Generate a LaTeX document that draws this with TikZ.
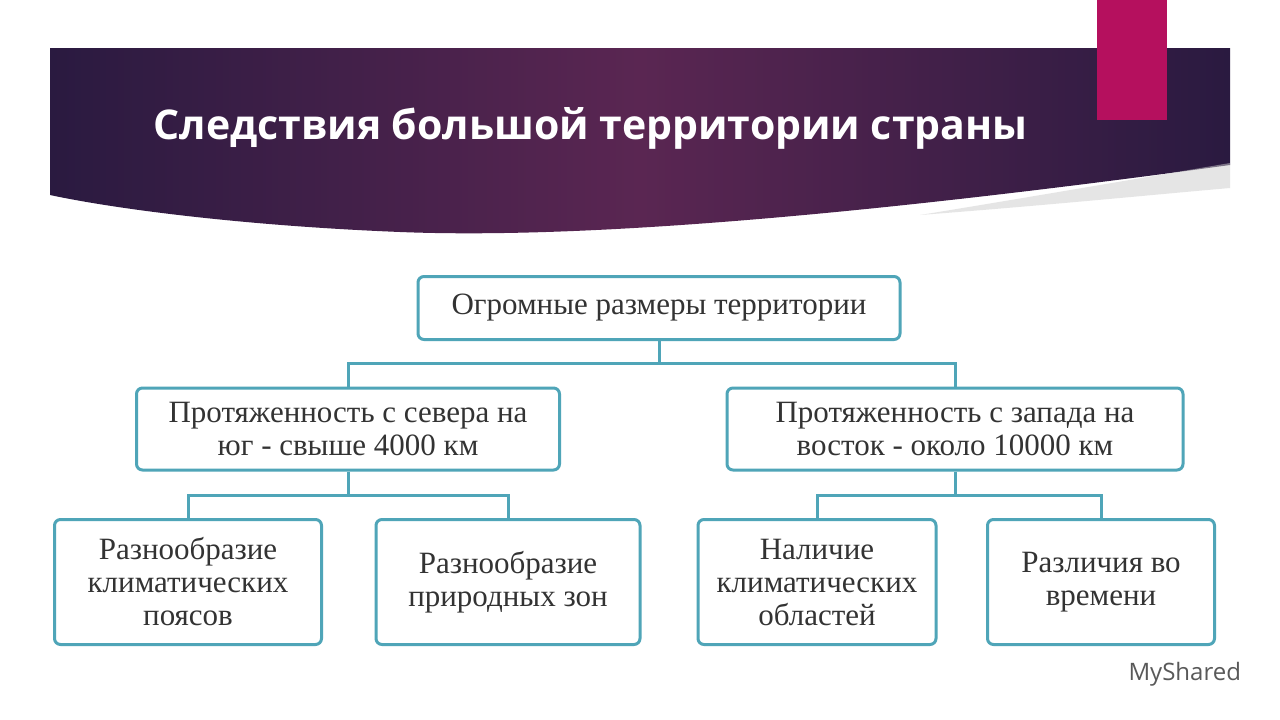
\documentclass[tikz,border=0pt]{standalone}
\usepackage{fontspec}
\setmainfont{Liberation Serif}
\newfontfamily\titlefont{Open Sans}
\newfontfamily\wmfont{Open Sans}
\begin{document}
\begin{tikzpicture}[x=1pt,y=-1pt,
  box/.style={draw=boxc,line width=3pt,rounded corners=6pt,fill=white,align=center,text=txt,font=\fontsize{31}{33}\selectfont,inner sep=0pt},
  link/.style={draw=boxc,line width=3pt}]
\definecolor{boxc}{HTML}{4FA5B8}
\definecolor{txt}{HTML}{333333}
\definecolor{band1}{HTML}{2A1A40}
\definecolor{band2}{HTML}{5A2652}
\definecolor{mag}{HTML}{B5105E}
\useasboundingbox (0,0) rectangle (1280,720);
\fill[white] (0,0) rectangle (1280,720);
\shade[left color=band1,right color=band1,middle color=band2]
  (50,48) -- (1230,48) -- (1230,165) .. controls (900,210) and (600,240) .. (400,232) .. controls (250,226) and (120,210) .. (50,195) -- cycle;
\fill[gray!40,opacity=0.5] (1230,163) .. controls (1100,185) and (1000,202) .. (920,215) .. controls (1050,205) and (1150,195) .. (1230,188) -- cycle;
\fill[mag] (1097,0) rectangle (1167,120);
\node[anchor=west,text=white,font=\titlefont\bfseries\fontsize{41}{46}\selectfont] (title) at (150,128) {Следствия большой территории страны};
\node[box,minimum width=482pt,minimum height=63pt] (top) at (659,308) {Огромные размеры территории};
\node[box,minimum width=423pt,minimum height=82pt] (l) at (348,429) {Протяженность с севера на\\юг - свыше 4000 км};
\node[box,minimum width=456pt,minimum height=82pt] (r) at (955,429) {Протяженность с запада на\\восток - около 10000 км};
\node[box,minimum width=267pt,minimum height=125pt] (b1) at (188,582) {Разнообразие\\климатических\\поясов};
\node[box,minimum width=264pt,minimum height=125pt] (b2) at (508,582) {Разнообразие\\природных зон};
\node[box,minimum width=238pt,minimum height=125pt] (b3) at (817,582) {Наличие\\климатических\\областей};
\node[box,minimum width=227pt,minimum height=125pt] (b4) at (1101,582) {Различия во\\времени};
\coordinate (j0) at (659,363);
\coordinate (j1) at (348,495);
\coordinate (j2) at (955,495);
\draw[link] (top.south) -- (j0);
\draw[link] (j0) -| (l.north);
\draw[link] (j0) -| (r.north);
\draw[link] (l.south) -- (j1);
\draw[link] (j1) -| (b1.north);
\draw[link] (j1) -| (b2.north);
\draw[link] (r.south) -- (j2);
\draw[link] (j2) -| (b3.north);
\draw[link] (j2) -| (b4.north);
\node[anchor=west,text=gray!70!black,font=\wmfont\fontsize{24}{28}\selectfont] (wm) at (1125,674) {MyShared};
\end{tikzpicture}
\end{document}
